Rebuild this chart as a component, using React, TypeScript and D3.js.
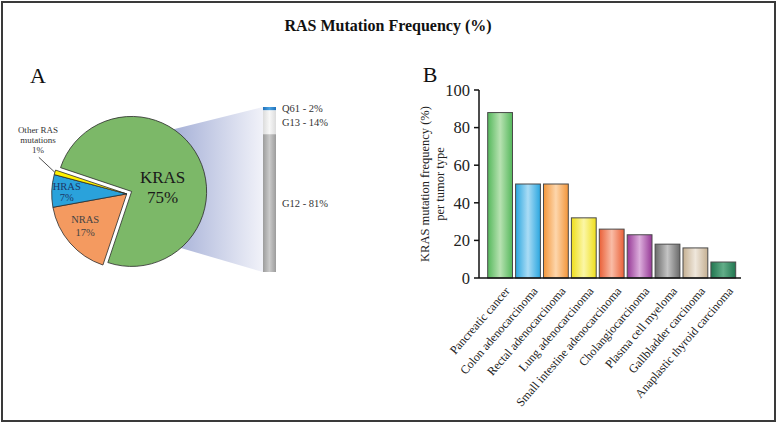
import React from "react";
import * as d3 from "d3";

// ---------- data ----------
const rasGenes = ["KRAS", "NRAS", "HRAS", "Other RAS mutations"];
const rasShare = [75, 17, 7, 1];

const codons = ["Q61", "G13", "G12"];
const codonShare = [2, 14, 81];

const tumorTypes = [
  "Pancreatic cancer",
  "Colon adenocarcinoma",
  "Rectal adenocarcinoma",
  "Lung adenocarcinoma",
  "Small intestine adenocarcinoma",
  "Cholangiocarcinoma",
  "Plasma cell myeloma",
  "Gallbladder carcinoma",
  "Anaplastic thyroid carcinoma",
];
const krasFrequency = [88, 50, 50, 32, 26, 23, 18, 16, 8.5];
const yTicks = [0, 20, 40, 60, 80, 100];

// ---------- styles ----------
const barEdge = ["#55b85c", "#2aa6df", "#f3963a", "#efdf1c", "#ea6038", "#963896", "#6a6a6a", "#c5b092", "#217650"];
const barMid = ["#b8e2b2", "#aadcf5", "#fdd6ac", "#fbf6a6", "#f9bca6", "#dcaedc", "#c4c4c4", "#efe7dc", "#62ad88"];
const pieEdge = ["#7cb868", "#f49a60", "#2aa2db", "#fff100"];
const pieMid = ["#cfe6c8", "#fde9da", "#62bde9", "#fff68a"];
const codonEdge = ["#1f72bb", "#dcdcdc", "#9c9c9c"];
const codonMid = ["#4aa2e2", "#f7f7f7", "#cacaca"];

const SERIF = "'Liberation Serif', 'Times New Roman', serif";
const rad = (d: number) => (d * Math.PI) / 180;

export default function App() {
  // ---- panel A: pie ----
  const cx = 128.5, cy = 193, R = 75;
  const pie = d3.pie<number>().sort(null).startAngle(rad(-71.5)).endAngle(rad(288.5));
  const arcs = pie(rasShare);
  const arcGen = d3.arc<d3.PieArcDatum<number>>().innerRadius(0).outerRadius(R);
  const groupMid = (arcs[1].startAngle + arcs[3].endAngle) / 2;
  const offsets = arcs.map((a, i) => {
    const ang = i === 0 ? (a.startAngle + a.endAngle) / 2 : groupMid;
    const d = i === 0 ? 3.5 : 2;
    return [d * Math.sin(ang), -d * Math.cos(ang)];
  });
  const gx = cx + offsets[0][0], gy = cy + offsets[0][1];
  const sx = cx + offsets[1][0], sy = cy + offsets[1][1];
  const polar = (ox: number, oy: number, r: number, a: number) => [ox + r * Math.sin(a), oy - r * Math.cos(a)];

  // ---- codon bar ----
  const bx0 = 263, bx1 = 276;
  const codonTotal = d3.sum(codonShare);
  const yc = d3.scaleLinear().domain([0, codonTotal]).range([107, 272]);
  const cum = codonShare.map((_, i) => d3.sum(codonShare.slice(0, i)));

  const fTop = polar(gx, gy, R, rad(34));
  const fBot = polar(gx, gy, R, rad(139));
  const funnel = [fTop, [bx0, yc(0)], [bx0, yc(codonTotal)], fBot, [gx, gy]];

  // ---- panel B: bars ----
  const y = d3.scaleLinear().domain([0, 100]).range([278, 90]);
  const x = d3.scaleBand<string>().domain(tumorTypes).range([486.15, 737.25]).paddingInner(0.111).paddingOuter(0.0555);
  const axisX0 = 479, axisX1 = 741;

  const other = polar(sx, sy, R, (arcs[3].startAngle + arcs[3].endAngle) / 2);
  const hrasC = polar(sx, sy, 60, (arcs[2].startAngle + arcs[2].endAngle) / 2);
  const nrasC = polar(sx, sy, 55, (arcs[1].startAngle + arcs[1].endAngle) / 2);

  return (
    <svg width={777} height={423} style={{ position: "fixed", left: 0, top: 0, background: "#fff" }} fontFamily={SERIF}>
      <defs>
        {barEdge.map((c, i) => (
          <linearGradient key={i} id={`bg${i}`} x1="0" x2="1" y1="0" y2="0">
            <stop offset="0" stopColor={c} />
            <stop offset="0.5" stopColor={barMid[i]} />
            <stop offset="1" stopColor={c} />
          </linearGradient>
        ))}
        {codonEdge.map((c, i) => (
          <linearGradient key={i} id={`cg${i}`} x1="0" x2="1" y1="0" y2="0">
            <stop offset="0" stopColor={c} />
            <stop offset="0.5" stopColor={codonMid[i]} />
            <stop offset="1" stopColor={c} />
          </linearGradient>
        ))}
        <radialGradient id="pg0" gradientUnits="userSpaceOnUse" cx={133} cy={143} r={105}>
          <stop offset="0" stopColor={pieMid[0]} />
          <stop offset="0.5" stopColor="#92c782" />
          <stop offset="1" stopColor={pieEdge[0]} />
        </radialGradient>
        <radialGradient id="pg1" gradientUnits="userSpaceOnUse" cx={88} cy={230} r={62}>
          <stop offset="0" stopColor={pieMid[1]} />
          <stop offset="0.55" stopColor="#f9bf97" />
          <stop offset="1" stopColor={pieEdge[1]} />
        </radialGradient>
        <radialGradient id="pg2" gradientUnits="userSpaceOnUse" cx={80} cy={195} r={50}>
          <stop offset="0" stopColor={pieMid[2]} />
          <stop offset="1" stopColor={pieEdge[2]} />
        </radialGradient>
        <radialGradient id="pg3" gradientUnits="userSpaceOnUse" cx={80} cy={175} r={50}>
          <stop offset="0" stopColor={pieMid[3]} />
          <stop offset="1" stopColor={pieEdge[3]} />
        </radialGradient>
        <linearGradient id="funnelG" gradientUnits="userSpaceOnUse" x1={170} x2={bx0} y1={0} y2={0}>
          <stop offset="0" stopColor="#a3aed6" />
          <stop offset="1" stopColor="#f1f2f9" />
        </linearGradient>
      </defs>

      <rect x={2} y={2} width={773} height={419} fill="none" stroke="#3a3a3a" strokeWidth={2} />

      <text x={388} y={31} textAnchor="middle" fontSize={16} fontWeight="bold" fill="#111">
        RAS Mutation Frequency (%)
      </text>

      {/* Panel A */}
      <text x={38} y={83} textAnchor="middle" fontSize={22} fill="#111">A</text>

      <polygon points={funnel.map((p) => p.join(",")).join(" ")} fill="url(#funnelG)" />

      {arcs.map((a, i) => (
        <path
          key={rasGenes[i]}
          d={arcGen(a) || ""}
          transform={`translate(${cx + offsets[i][0]},${cy + offsets[i][1]})`}
          fill={`url(#pg${i})`}
          stroke="#2b2b2b"
          strokeWidth={0.8}
          strokeLinejoin="round"
        />
      ))}

      <text x={gx + 31} y={gy - 8} textAnchor="middle" fontSize={17} fill="#1a1a1a">KRAS</text>
      <text x={gx + 31} y={gy + 12} textAnchor="middle" fontSize={17} fill="#1a1a1a">{rasShare[0]}%</text>

      <text x={hrasC[0]} y={hrasC[1] - 1.5} textAnchor="middle" fontSize={10.5} fill="#1c3868">HRAS</text>
      <text x={hrasC[0]} y={hrasC[1] + 10} textAnchor="middle" fontSize={10.5} fill="#1c3868">{rasShare[2]}%</text>

      <text x={nrasC[0]} y={nrasC[1] - 6.5} textAnchor="middle" fontSize={10.5} fill="#444">NRAS</text>
      <text x={nrasC[0]} y={nrasC[1] + 5.8} textAnchor="middle" fontSize={10.5} fill="#444">{rasShare[1]}%</text>

      <line x1={other[0]} y1={other[1]} x2={other[0] - 16} y2={other[1] - 15} stroke="#222" strokeWidth={0.8} />
      <text x={38} y={132.7} textAnchor="middle" fontSize={9} fill="#333">Other RAS</text>
      <text x={38} y={142.7} textAnchor="middle" fontSize={9} fill="#333">mutations</text>
      <text x={38} y={152.7} textAnchor="middle" fontSize={9} fill="#333">{rasShare[3]}%</text>

      {codons.map((c, i) => (
        <g key={c}>
          <rect
            x={bx0}
            y={yc(cum[i])}
            width={bx1 - bx0}
            height={yc(cum[i] + codonShare[i]) - yc(cum[i])}
            fill={`url(#cg${i})`}
          />
          <text
            x={282}
            y={(yc(cum[i]) + yc(cum[i] + codonShare[i])) / 2}
            dy="0.35em"
            fontSize={10.5}
            fill="#333"
          >
            {c} - {codonShare[i]}%
          </text>
        </g>
      ))}

      {/* Panel B */}
      <text x={430} y={82} textAnchor="middle" fontSize={22} fill="#111">B</text>

      {tumorTypes.map((t, i) => (
        <rect
          key={t}
          x={x(t)}
          y={y(krasFrequency[i])}
          width={x.bandwidth()}
          height={y(0) - y(krasFrequency[i])}
          fill={`url(#bg${i})`}
          stroke="#4a4a4a"
          strokeWidth={1}
        />
      ))}

      <line x1={axisX0} x2={axisX0} y1={y(100)} y2={y(0)} stroke="#111" strokeWidth={1.5} />
      <line x1={axisX0} x2={axisX1} y1={y(0)} y2={y(0)} stroke="#111" strokeWidth={1.5} />
      {yTicks.map((v) => (
        <g key={v}>
          <line x1={axisX0 - 5} x2={axisX0} y1={y(v)} y2={y(v)} stroke="#111" strokeWidth={1.5} />
          <text x={470} y={y(v)} dy="0.35em" textAnchor="end" fontSize={16.5} fill="#222">{v}</text>
        </g>
      ))}

      <g transform={`translate(429,${(y(0) + y(100)) / 2}) rotate(-90)`}>
        <text textAnchor="middle" fontSize={12.5} fill="#222">KRAS mutation frequency (%)</text>
      </g>
      <g transform={`translate(444,${(y(0) + y(100)) / 2}) rotate(-90)`}>
        <text textAnchor="middle" fontSize={12.5} fill="#222">per tumor type</text>
      </g>

      {tumorTypes.map((t) => (
        <g key={t} transform={`translate(${(x(t) as number) + x.bandwidth() / 2 + 4},${286}) rotate(-49)`}>
          <text textAnchor="end" dy="0.7em" fontSize={12} fill="#222">{t}</text>
        </g>
      ))}
    </svg>
  );
}
